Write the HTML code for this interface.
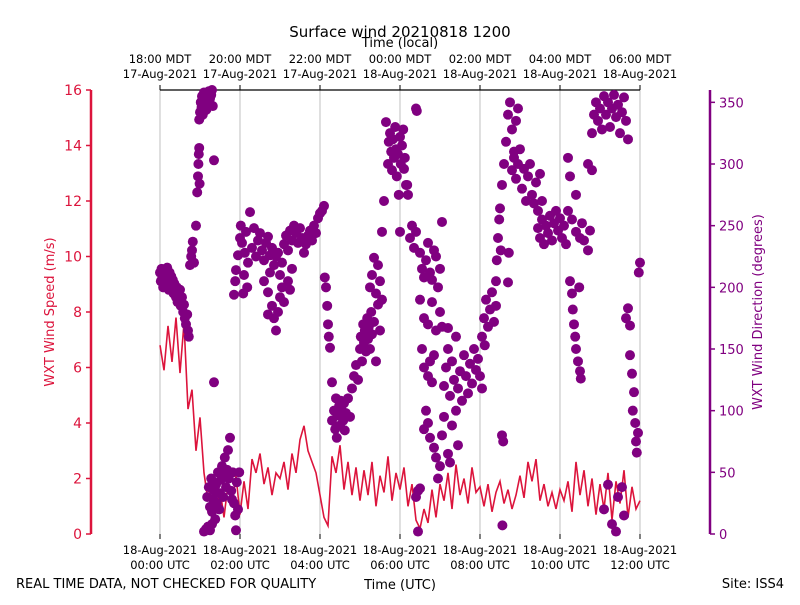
<!DOCTYPE html>
<html><head><meta charset="utf-8"><style>
html,body{margin:0;padding:0;background:#fff;}
svg text{font-family:"DejaVu Sans","Liberation Sans",sans-serif;}
</style></head><body>
<svg id="chart" width="800" height="600" viewBox="0 0 800 600" xmlns="http://www.w3.org/2000/svg">
<rect width="800" height="600" fill="#fff"/>
<text x="400" y="37" font-size="15" text-anchor="middle">Surface wind 20210818 1200</text>
<text x="400" y="47" font-size="13" text-anchor="middle">Time (local)</text>
<text x="400" y="589" font-size="13" text-anchor="middle">Time (UTC)</text>
<text x="16" y="588" font-size="13">REAL TIME DATA, NOT CHECKED FOR QUALITY</text>
<text x="784" y="588" font-size="13" text-anchor="end">Site: ISS4</text>
<text x="54" y="312" font-size="13" fill="#dc143c" text-anchor="middle" transform="rotate(-90 54 312)">WXT Wind Speed (m/s)</text>
<text x="762" y="312" font-size="13" fill="#800080" text-anchor="middle" transform="rotate(-90 762 312)">WXT Wind Direction (degrees)</text>
<g id="grid"></g><g id="axes"></g><g id="series"></g>
</svg>
<script>
const speedValues=[6.8,5.9,7.5,6.2,7.8,5.8,
7.6,4.5,5.2,3.0,4.2,
2.2,1.2,2.0,0.8,1.6,0.6,1.8,1.0,2.1,0.7,
1.9,0.9,2.7,2.2,2.9,1.8,2.4,1.4,2.2,2.0,
2.6,1.6,2.9,2.2,3.4,3.9,3.0,2.6,2.2,1.4,
0.6,0.3,2.8,2.2,3.2,1.6,2.6,1.4,2.4,1.2,
2.3,1.4,2.6,1.0,2.1,1.5,2.8,1.2,2.2,1.6,
2.4,1.0,1.8,0.5,0.2,0.9,0.4,1.6,0.6,1.8,
1.2,2.2,0.9,2.5,1.4,2.0,1.1,2.4,1.5,1.7,
1.0,1.8,0.8,1.5,1.9,1.1,1.6,0.9,1.4,2.1,
1.3,2.6,1.9,2.7,1.2,1.8,1.0,1.5,0.9,1.6,
1.2,1.9,0.8,2.6,1.4,2.3,1.0,2.0,0.7,1.8,
0.9,2.2,0.5,1.9,1.1,2.3,0.6,1.7,0.9,1.2];
const dirObservations=[[0,212],[0.02,205],[0.04,215],[0.06,208],[0.08,200],[0.1,214],[0.12,206],[0.14,210],[0.16,203],[0.18,216],[0.2,207],[0.22,198],[0.24,212],[0.26,204],[0.28,209],[0.3,200],[0.32,206],[0.34,195],[0.36,203],[0.38,198],[0.4,192],[0.42,200],[0.44,188],[0.46,196],[0.48,190],[0.5,198],[0.52,185],[0.55,192],[0.58,180],[0.6,186],[0.62,175],[0.65,170],[0.68,178],[0.7,165],[0.72,160],
[0.75,218],[0.78,225],[0.8,230],[0.82,237],[0.85,220],[0.9,250],[0.93,277],[0.95,290],[0.96,300],[0.97,308],[0.98,313],[0.99,284],
[0.98,336],[1.0,342],[1.02,350],[1.04,346],[1.05,355],[1.07,340],[1.08,352],[1.1,358],[1.12,348],[1.14,354],[1.16,344],[1.18,357],[1.2,350],[1.22,359],[1.25,353],[1.28,356],[1.3,360],[1.32,347],
[1.35,303],[1.35,123],
[1.1,2],[1.15,4],[1.2,6],[1.25,3],[1.3,8],[1.18,30],[1.22,38],[1.25,22],[1.28,45],[1.3,18],[1.33,28],[1.36,35],[1.38,12],[1.4,40],[1.42,25],[1.45,50],[1.48,20],[1.5,33],[1.52,44],[1.55,55],[1.58,30],[1.6,48],[1.62,62],[1.65,38],[1.68,52],[1.7,68],[1.72,45],[1.75,78],[1.78,35],[1.8,28],[1.82,50],[1.85,25],[1.88,15],[1.9,3],[1.92,42],[1.95,20],[1.98,50],
[1.85,194],[1.88,205],[1.9,214],[1.95,226],[2.0,240],[2.02,250],[2.05,236],[2.08,195],[2.1,210],[2.12,228],[2.15,245],[2.18,200],[2.2,220],[2.25,261],
[2.3,232],[2.35,248],[2.4,225],[2.45,238],[2.5,244],[2.55,230],[2.6,222],[2.65,236],[2.7,241],[2.75,226],[2.8,232],[2.85,218],[2.9,225],[2.95,228],[3.0,210],[3.05,220],[3.1,235],[3.15,242],[3.2,230],[3.25,246],[3.3,238],[3.35,250],[3.4,244],[3.45,236],[3.5,248],[3.55,240],[3.6,228],[3.65,235],[3.7,242],[3.75,246],[3.8,238],[3.85,250],[3.9,244],[3.95,256],[4.0,260],[4.05,262],[4.1,266],
[2.6,205],[2.7,196],[2.8,185],[2.85,175],[2.9,165],[2.95,180],[3.0,192],[3.05,200],[3.1,188],[3.2,205],[3.25,198],[2.75,212],[2.7,178],[3.3,215],
[4.12,208],[4.15,200],[4.18,185],[4.2,170],[4.22,160],[4.25,151],[4.3,123],
[4.3,92],[4.35,100],[4.38,85],[4.4,110],[4.42,78],[4.45,96],[4.48,104],[4.5,88],[4.52,108],[4.55,100],[4.58,92],[4.6,106],[4.62,84],[4.65,98],[4.7,110],[4.75,95],
[4.8,118],[4.85,128],[4.9,137],[4.95,125],[5.0,150],[5.02,160],[5.05,140],[5.08,170],[5.1,155],[5.12,165],[5.15,148],[5.18,175],[5.2,158],[5.22,168],[5.25,150],[5.28,180],[5.3,162],[5.35,172],[5.4,140],[5.45,186],[5.5,165],
[5.25,200],[5.3,210],[5.35,224],[5.4,195],[5.45,218],[5.5,205],[5.55,190],
[5.55,245],[5.6,270],[5.65,334],[5.7,300],[5.72,318],[5.75,325],[5.78,310],[5.8,295],[5.82,320],[5.85,305],[5.88,330],[5.9,312],[5.92,290],[5.95,308],[5.97,275],[6.0,322],[6.02,300],[6.05,315],[6.08,328],[6.1,296],[6.12,305],[6.15,283],[6.18,283],[6.2,275],[6.0,245],
[6.4,345],[6.42,343],
[6.25,240],[6.3,250],[6.35,232],[6.4,245],[6.5,228],[6.55,215],[6.6,208],[6.65,222],[6.7,236],[6.75,212],[6.8,206],[6.85,230],[6.9,225],[6.95,200],[7.0,215],[7.05,253],
[6.5,190],[6.6,175],[6.7,170],[6.8,188],[6.9,165],[7.0,180],[7.05,168],
[6.55,150],[6.6,135],[6.7,128],[6.8,123],[6.85,145],[6.75,140],
[7.1,120],[7.15,135],[7.2,150],[7.25,112],[7.3,140],[7.35,125],[7.4,160],[7.45,118],[7.5,132],[7.55,108],[7.6,145],[7.65,128],[7.7,114],[7.75,138],[7.8,122],[7.85,150],[7.9,133],[7.95,142],[8.0,128],[8.05,118],[7.2,167],
[6.6,85],[6.65,100],[6.7,90],[6.75,78],[6.85,70],[6.9,62],[7.0,55],[7.05,80],[7.1,95],[7.2,65],[7.25,58],[7.3,88],[7.4,100],[7.45,72],
[6.4,30],[6.45,35],[6.5,37],[6.45,2],[6.95,45],
[8.05,160],[8.1,175],[8.15,190],[8.2,168],[8.25,182],[8.3,196],[8.35,172],[8.4,185],[8.12,153],
[8.4,205],[8.42,222],[8.45,240],[8.48,255],[8.5,264],[8.52,230],[8.7,204],[8.72,228],
[8.55,80],[8.58,75],[8.56,7],
[8.55,283],[8.6,300],[8.65,318],[8.7,340],[8.75,350],[8.8,328],[8.85,310],[8.9,335],[8.95,345],
[8.8,295],[8.85,305],[8.9,288],[8.95,300],[9.0,312],[9.05,280],[9.1,296],[9.15,270],[9.2,290],[9.25,300],[9.3,275],[9.35,268],[9.4,285],[9.45,262],[9.5,292],[9.55,270],
[9.45,248],[9.5,240],[9.55,255],[9.6,235],[9.65,250],[9.7,244],[9.75,258],[9.8,238],[9.85,252],[9.9,262],[9.95,246],[10.0,256],[10.05,240],[10.1,250],[10.15,235],[10.2,262],[10.3,255],[10.4,245],[10.5,240],[10.55,252],[10.6,238],[10.7,230],[10.75,246],
[10.2,305],[10.25,290],[10.4,275],
[10.25,205],[10.3,195],[10.32,182],[10.35,170],[10.38,160],[10.4,150],[10.45,140],[10.5,132],[10.52,126],[10.48,200],
[10.7,300],[10.8,325],[10.85,340],[10.9,350],[10.95,335],[11.0,345],[11.05,328],[11.1,355],[11.15,340],[11.2,350],[11.25,330],[11.3,345],[11.35,356],[11.4,338],[11.45,348],[11.5,325],[11.55,342],[11.6,354],[11.65,335],[11.7,320],[10.8,295],
[11.65,175],[11.7,183],[11.75,169],[11.75,145],[11.8,130],[11.85,115],[11.82,100],[11.88,90],[11.9,75],[11.92,66],[11.95,82],[11.97,212],[12.0,220],
[11.1,20],[11.2,40],[11.3,8],[11.4,2],[11.45,30],[11.55,38],[11.6,15]];
const speedTicks=[0,2,4,6,8,10,12,14,16];
const dirTicks=[0,50,100,150,200,250,300,350];
const utcTickHours=[0,2,4,6,8,10,12];
const utcLabels=["00:00 UTC","02:00 UTC","04:00 UTC","06:00 UTC","08:00 UTC","10:00 UTC","12:00 UTC"];
const localLabels=["18:00 MDT","20:00 MDT","22:00 MDT","00:00 MDT","02:00 MDT","04:00 MDT","06:00 MDT"];
const localDates=["17-Aug-2021","17-Aug-2021","17-Aug-2021","18-Aug-2021","18-Aug-2021","18-Aug-2021","18-Aug-2021"];

const NS="http://www.w3.org/2000/svg";
const X0=160,X1=640,YT=90,YB=534;
const xS=h=>X0+h*(X1-X0)/12;
const yL=v=>YB-v*(YB-YT)/16;
const yR=d=>YB-d*(YB-YT)/360;
function mk(tag,attrs,parent,text){const e=document.createElementNS(NS,tag);for(const k in attrs)e.setAttribute(k,attrs[k]);if(text!==undefined)e.textContent=text;parent.appendChild(e);return e;}
const grid=document.getElementById('grid'),axes=document.getElementById('axes'),series=document.getElementById('series');

utcTickHours.forEach((h,i)=>{
  const x=xS(h);
  const g=mk('line',{x1:x,x2:x,y1:YT,y2:YB,stroke:'#b0b0b0','stroke-width':0.8},grid);
  
  
  const t=mk('line',{x1:x,x2:x,y1:YB,y2:YB+5,stroke:'#000'},axes);
  
  
  const l1=mk('text',{x:x,y:554,'font-size':11.5,'text-anchor':'middle'},axes,'18-Aug-2021');
  
  
  const l2=mk('text',{x:x,y:569,'font-size':11.5,'text-anchor':'middle'},axes,utcLabels[i]);
  
  
  const tt=mk('line',{x1:x,x2:x,y1:YT,y2:YT-5,stroke:'#000'},axes);
  
  
  const u1=mk('text',{x:x,y:63,'font-size':11.5,'text-anchor':'middle'},axes,localLabels[i]);
  
  
  const u2=mk('text',{x:x,y:78,'font-size':11.5,'text-anchor':'middle'},axes,localDates[i]);
  
  
});
const topSpine=mk('line',{x1:X0,x2:X1,y1:YT,y2:YT,stroke:'#000','stroke-width':1.2},axes);



const ls=mk('line',{x1:91,x2:91,y1:YT,y2:YB,stroke:'#dc143c','stroke-width':2.5},axes);


speedTicks.forEach(v=>{
  const y=yL(v);
  const t=mk('line',{x1:86,x2:91,y1:y,y2:y,stroke:'#dc143c','stroke-width':1.5},axes);
  
  
  const l=mk('text',{x:82,y:y+5,'font-size':14,'text-anchor':'end',fill:'#dc143c'},axes,String(v));
  
  
});
const rs=mk('line',{x1:710,x2:710,y1:YT,y2:YB,stroke:'#800080','stroke-width':2.5},axes);


dirTicks.forEach(v=>{
  const y=yR(v);
  const t=mk('line',{x1:710,x2:715,y1:y,y2:y,stroke:'#800080','stroke-width':1.5},axes);
  
  
  const l=mk('text',{x:719,y:y+5,'font-size':13,fill:'#800080'},axes,String(v));
  
  
});

const n=speedValues.length;
const pts=speedValues.map((v,i)=>xS(i*12/(n-1)).toFixed(1)+','+yL(v).toFixed(1)).join(' ');
const line=mk('polyline',{points:pts,fill:'none',stroke:'#dc143c','stroke-width':1.6},series);



dirObservations.forEach(p=>{
  const c=mk('circle',{cx:xS(p[0]),cy:yR(p[1]),r:5,fill:'#800080'},series);
  
  
});
</script>
</body></html>
